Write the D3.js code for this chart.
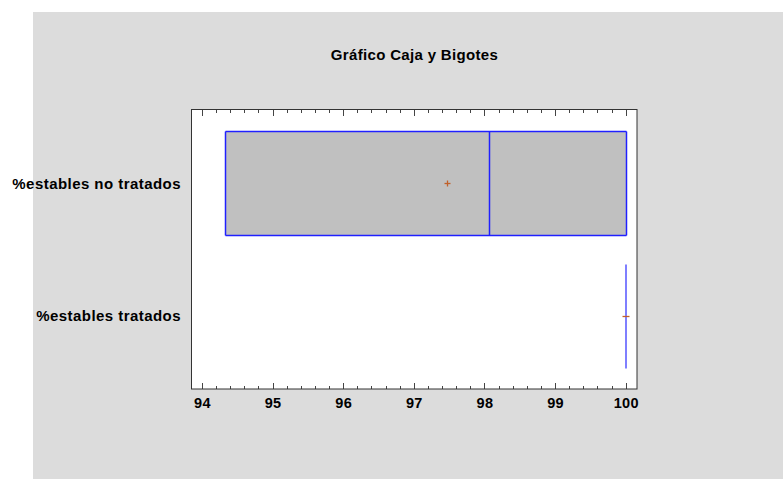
<!DOCTYPE html>
<html>
<head>
<meta charset="utf-8">
<script src="https://cdn.jsdelivr.net/npm/d3@7"></script>
<style>
  html, body { margin: 0; padding: 0; background: #ffffff; }
  svg { display: block; }
  text { font-family: "Liberation Sans", Arial, sans-serif; font-weight: bold; fill: #000; }
</style>
</head>
<body>
<svg id="chart" width="783" height="479"></svg>
<script>
// ---- Data ----
const categories = ["%estables no tratados", "%estables tratados"];
const q1Values     = [94.33, 100];
const medianValues = [98.07, 100];
const q3Values     = [100, 100];
const minValues    = [94.33, 100];
const maxValues    = [100, 100];
const meanValues   = [97.47, 100];
const xTicks = [94, 95, 96, 97, 98, 99, 100];
const titleText = "Gráfico Caja y Bigotes";

const rows = categories.map((c, i) => ({
  cat: c, q1: q1Values[i], med: medianValues[i], q3: q3Values[i],
  min: minValues[i], max: maxValues[i], mean: meanValues[i]
}));

// ---- Layout ----
const W = 783, H = 479;
const plot = { left: 191, top: 110, right: 637, bottom: 389 };
const px = v => Math.round(v) + 0.5;

const svg = d3.select("#chart");

// background panel
svg.append("rect").attr("x", 33).attr("y", 12).attr("width", W - 33).attr("height", H - 12)
  .attr("fill", "#dcdcdc");

// plot area
svg.append("rect").attr("x", plot.left).attr("y", plot.top)
  .attr("width", plot.right - plot.left).attr("height", plot.bottom - plot.top)
  .attr("fill", "#ffffff");

const x = d3.scaleLinear().domain([93.845, 100.16]).range([plot.left, plot.right]);
const y = d3.scaleBand().domain(categories).range([plot.top, plot.bottom])
  .paddingInner(0.2135).paddingOuter(0.16);

// title
svg.append("text").attr("x", 414.5).attr("y", 60).attr("text-anchor", "middle")
  .style("font-size", "15px").style("letter-spacing", "0.33px").text(titleText);

// boxes
const g = svg.append("g");
const blue = "#2020ff";
const meanColor = "#c0602a";
const lw = 1.5;
rows.forEach(d => {
  const y0 = px(y(d.cat)), y1 = px(y(d.cat) + y.bandwidth()), yc = Math.round(y(d.cat) + y.bandwidth() / 2) + 0.5;
  const xa = px(x(d.q1)), xb = px(x(d.q3));
  const deg = xb - xa < 1;
  if (!deg) {
    g.append("rect").attr("x", xa).attr("y", y0).attr("width", xb - xa).attr("height", y1 - y0)
      .attr("fill", "#c0c0c0");
  }
  const xm = px(x(d.mean));
  if (!deg) {
    // mean marker
    g.append("line").attr("x1", xm - 3).attr("x2", xm + 3).attr("y1", yc).attr("y2", yc)
      .attr("stroke", meanColor).attr("stroke-width", 1.3);
    g.append("line").attr("x1", xm).attr("x2", xm).attr("y1", yc - 3).attr("y2", yc + 3)
      .attr("stroke", meanColor).attr("stroke-width", 1.3);
    // box outline
    g.append("line").attr("x1", xa).attr("x2", xb).attr("y1", y0).attr("y2", y0).attr("stroke", blue).attr("stroke-width", lw);
    g.append("line").attr("x1", xa).attr("x2", xb).attr("y1", y1).attr("y2", y1).attr("stroke", blue).attr("stroke-width", lw);
    g.append("line").attr("x1", xa).attr("x2", xa).attr("y1", y0).attr("y2", y1).attr("stroke", blue).attr("stroke-width", lw);
    g.append("line").attr("x1", xb).attr("x2", xb).attr("y1", y0).attr("y2", y1).attr("stroke", blue).attr("stroke-width", lw);
    const xmd = px(x(d.med));
    g.append("line").attr("x1", xmd).attr("x2", xmd).attr("y1", y0).attr("y2", y1).attr("stroke", blue).attr("stroke-width", lw);
  } else {
    const xl = Math.round(x(d.q1));
    g.append("line").attr("x1", xl).attr("x2", xl).attr("y1", y0).attr("y2", y1)
      .attr("stroke", "#7f7fff").attr("stroke-width", 2);
    // mean marker (only the horizontal dash shows over the collapsed box)
    g.append("line").attr("x1", xl - 3.5).attr("x2", xl + 3.5).attr("y1", yc).attr("y2", yc)
      .attr("stroke", meanColor).attr("stroke-width", 1.3);
  }
  // whiskers
  if (x(d.q1) - x(d.min) > 0.5) {
    g.append("line").attr("x1", x(d.min)).attr("x2", x(d.q1)).attr("y1", yc).attr("y2", yc).attr("stroke", blue);
  }
  if (x(d.max) - x(d.q3) > 0.5) {
    g.append("line").attr("x1", x(d.q3)).attr("x2", x(d.max)).attr("y1", yc).attr("y2", yc).attr("stroke", blue);
  }
});

// minor ticks
const minor = d3.range(94, 100.0001, 0.2).map(v => Math.round(v * 10) / 10)
  .filter(v => xTicks.indexOf(v) < 0);

const axisBottom = d3.axisBottom(x).tickValues(xTicks).tickSize(0).tickPadding(0)
  .tickFormat(d3.format("d"));
const ax = svg.append("g").attr("transform", `translate(0,${plot.bottom})`).call(axisBottom);
ax.select(".domain").remove();
ax.selectAll("text").attr("y", 19).attr("dy", null)
  .style("font-size", "14.5px").style("font-family", "'Liberation Sans', Arial, sans-serif")
  .style("font-weight", "bold").style("letter-spacing", "0.3px").attr("fill", "#000");

const tickG = svg.append("g").attr("stroke", "#444").attr("stroke-width", 1);
xTicks.forEach(v => {
  const xx = px(x(v));
  tickG.append("line").attr("x1", xx).attr("x2", xx).attr("y1", plot.bottom).attr("y2", plot.bottom - 6);
  tickG.append("line").attr("x1", xx).attr("x2", xx).attr("y1", plot.top).attr("y2", plot.top + 6);
});
minor.forEach(v => {
  const xx = px(x(v));
  tickG.append("line").attr("x1", xx).attr("x2", xx).attr("y1", plot.bottom).attr("y2", plot.bottom - 3);
  tickG.append("line").attr("x1", xx).attr("x2", xx).attr("y1", plot.top).attr("y2", plot.top + 3);
});

// frame
svg.append("rect").attr("x", plot.left + 0.5).attr("y", plot.top - 0.5)
  .attr("width", plot.right - plot.left - 0.5).attr("height", plot.bottom - plot.top + 0.5)
  .attr("fill", "none").attr("stroke", "#333").attr("stroke-width", 1);

// y labels
categories.forEach(c => {
  svg.append("text").attr("x", 181).attr("y", y(c) + y.bandwidth() / 2 + 5.5)
    .attr("text-anchor", "end").style("font-size", "15px").style("letter-spacing", "0.45px").text(c);
});
</script>
</body>
</html>
